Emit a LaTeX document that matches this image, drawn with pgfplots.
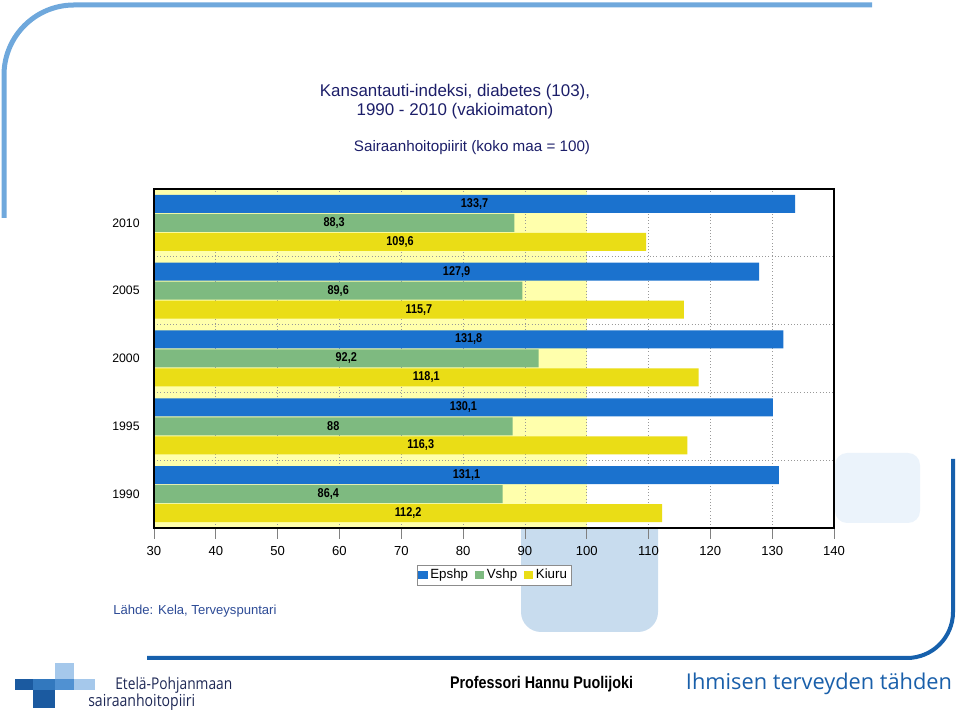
\documentclass[border=0pt]{standalone}
\usepackage{fontspec}
\setmainfont{Liberation Sans}
\newfontfamily\narrowfont[FakeStretch=0.85]{Liberation Sans}
\newfontfamily\humfont{Open Sans}
\newfontfamily\humnarrow[FakeStretch=0.85]{Open Sans}
\usepackage{graphicx}
\usepackage{pgfplots}
\pgfplotsset{compat=1.18}
\usepackage{pgfplotstable}

\pgfplotstableread{
Y E V K
1990 131.1 86.4 112.2
1995 130.1 88 116.3
2000 131.8 92.2 118.1
2005 127.9 89.6 115.7
2010 133.7 88.3 109.6
}\datatab

\definecolor{cBlue}{RGB}{27,114,206}
\definecolor{cGreen}{RGB}{126,186,128}
\definecolor{cYellow}{RGB}{234,221,22}
\definecolor{cLight}{RGB}{255,255,172}
\definecolor{navy}{RGB}{28,30,105}
\definecolor{srcBlue}{RGB}{45,75,150}
\definecolor{decoBlue}{RGB}{111,168,220}
\definecolor{darkBlue}{RGB}{22,96,172}
\definecolor{paleBlue}{RGB}{200,220,238}
\definecolor{paleBlue2}{RGB}{235,243,251}
\definecolor{ihmBlue}{RGB}{25,95,170}
\definecolor{logoNavy}{RGB}{30,40,85}
\definecolor{logoDark}{RGB}{27,90,160}
\definecolor{logoMid}{RGB}{50,120,190}
\definecolor{logoMidB}{RGB}{80,145,210}
\definecolor{logoLight}{RGB}{165,200,235}

\begin{document}
\begin{tikzpicture}[x=0.75pt,y=0.75pt]
\path[use as bounding box] (0,0) rectangle (960,713);
% slide decorations
\draw[decoBlue, line width=3.75pt] (4,495) -- (4,638) arc[start angle=180,end angle=90,radius=70] -- (872,708);
\fill[paleBlue, rounded corners=15pt] (521,81) rectangle (658,230);
\fill[paleBlue2, rounded corners=9pt] (835,190) rectangle (920,260);
\draw[darkBlue, line width=3pt] (953,254) -- (953,101) arc[start angle=0,end angle=-90,radius=46] -- (147,55);
\fill[white] (154,185) rectangle (834,524);
\coordinate (plotSW) at (154,185);

% light yellow reference area
\begin{axis}[at={(plotSW)}, anchor=south west, scale only axis,
  width=510pt, height=254.25pt,
  xmin=30, xmax=140, ymin=1987.5, ymax=2012.5, hide axis]
\fill[cLight] (axis cs:30,1987.5) rectangle (axis cs:100,2012.5);
\end{axis}

\begin{axis}[at={(plotSW)}, anchor=south west, scale only axis,
  width=510pt, height=254.25pt,
  xmin=30, xmax=140, ymin=1987.5, ymax=2012.5,
  axis line style={black, line width=1.1pt},
  xtick={30,40,...,140},
  xmajorgrids, grid style={gray!80, dotted, line width=0.6pt},
  ytick={1990,1995,2000,2005,2010},
  yticklabels={1990,1995,2000,2005,2010},
  extra y ticks={1992.5,1997.5,2002.5,2007.5},
  extra y tick labels={},
  extra y tick style={grid=major, major tick length=0pt},
  tick pos=left, tick align=outside,
  major tick length=8.25pt,
  x tick style={gray, line width=0.6pt},
  y tick style={draw=none},
  xticklabel style={font=\fontsize{9.8}{10}\selectfont, yshift=-2pt},
  yticklabel style={font=\fontsize{9.2}{10}\selectfont, xshift=1pt},
  /pgf/number format/assume math mode=true,
  /pgf/number format/use comma,
  legend columns=3,
  legend style={at={(0.5,-0.139)}, anchor=center,
    font=\fontsize{10}{11}\selectfont, draw=gray!90, inner sep=1pt,
    /tikz/every even column/.append style={column sep=3pt}},
  legend image code/.code={\fill[#1] (0pt,-3.2pt) rectangle (7pt,3.2pt);},
]
\addplot[xbar, bar width=13.5pt, bar shift=14.25pt, fill=cBlue, draw=none] table[x=E,y=Y]{\datatab};
\addlegendentry{Epshp}
\addplot[xbar, bar width=13.5pt, bar shift=0pt, fill=cGreen, draw=none] table[x=V,y=Y]{\datatab};
\addlegendentry{Vshp}
\addplot[xbar, bar width=13.5pt, bar shift=-14.25pt, fill=cYellow, draw=none] table[x=K,y=Y]{\datatab};
\addlegendentry{Kiuru}

\addplot[draw=none, mark=none, forget plot, nodes near coords, point meta=explicit,
  every node near coord/.append style={anchor=center, yshift=14.25pt, font=\narrowfont\bfseries\fontsize{9.6}{10}\selectfont, text=black}]
  table[x expr={(\thisrow{E}+30)/2}, y=Y, meta=E]{\datatab};
\addplot[draw=none, mark=none, forget plot, nodes near coords, point meta=explicit,
  every node near coord/.append style={anchor=center, yshift=0pt, font=\narrowfont\bfseries\fontsize{9.6}{10}\selectfont, text=black}]
  table[x expr={(\thisrow{V}+30)/2}, y=Y, meta=V]{\datatab};
\addplot[draw=none, mark=none, forget plot, nodes near coords, point meta=explicit,
  every node near coord/.append style={anchor=center, yshift=-14.25pt, font=\narrowfont\bfseries\fontsize{9.6}{10}\selectfont, text=black}]
  table[x expr={(\thisrow{K}+30)/2}, y=Y, meta=K]{\datatab};

\draw[black, line width=1.1pt] (rel axis cs:0,0) rectangle (rel axis cs:1,1);
\end{axis}

% titles
\node[text=navy, font=\fontsize{12.7}{14.25}\selectfont, align=center] at (455,611.5) {Kansantauti-indeksi, diabetes (103),\\1990 - 2010 (vakioimaton)};
\node[text=navy, font=\fontsize{11.4}{13}\selectfont] at (472,565) {Sairaanhoitopiirit (koko maa = 100)};
\node[text=srcBlue, font=\fontsize{9.8}{11}\selectfont, anchor=west, inner sep=0] at (113,102) {Lähde: Kela, Terveyspuntari};

% footer
\node[inner sep=0] at (541.5,29) {\resizebox{137.25pt}{!}{\narrowfont\bfseries Professori Hannu Puolijoki}};
\node[inner sep=0, text=ihmBlue] at (819,29) {\resizebox{199.5pt}{!}{\humfont Ihmisen terveyden tähden}};
\node[anchor=west, inner sep=0, text=logoNavy] at (115,28) {\resizebox{87.75pt}{!}{\humnarrow Etelä-Pohjanmaan}};
\node[anchor=west, inner sep=0, text=logoNavy] at (88,11) {\resizebox{80.25pt}{!}{\humnarrow sairaanhoitopiiri}};
% logo
\fill[logoLight] (55,713-679) rectangle (74,713-663);
\fill[logoDark] (15,713-690) rectangle (33,713-679);
\fill[logoMid] (33,713-690) rectangle (55,713-679);
\fill[logoMidB] (55,713-690) rectangle (74,713-679);
\fill[logoLight] (74,713-690) rectangle (95,713-679);
\fill[logoDark] (33,713-708) rectangle (55,713-690);
\end{tikzpicture}
\end{document}
